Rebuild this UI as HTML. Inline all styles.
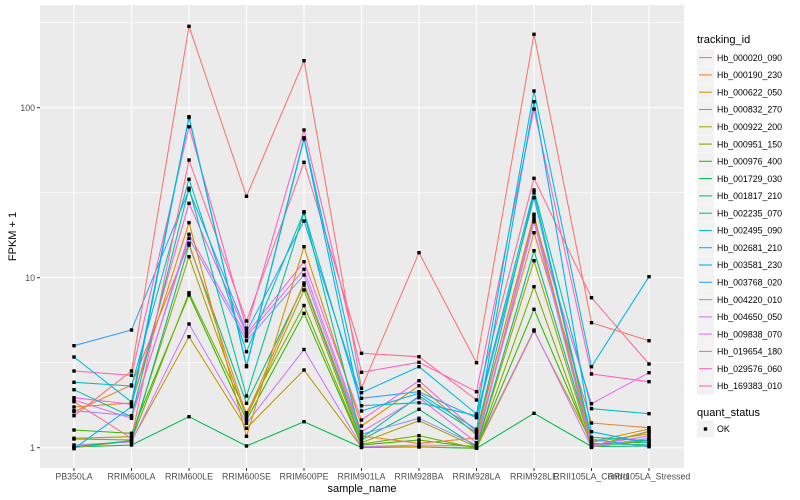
<!DOCTYPE html>
<html><head><meta charset="utf-8"><style>
html,body{margin:0;padding:0;background:#fff;}
svg{display:block;font-family:"Liberation Sans",Arial,sans-serif;}
</style></head><body>
<svg width="800" height="500" viewBox="0 0 800 500" xmlns="http://www.w3.org/2000/svg">
<rect x="0" y="0" width="800" height="500" fill="#fff"/>
<rect x="40" y="5" width="644" height="463" fill="#EBEBEB"/>
<g stroke="#fff" stroke-width="0.55" fill="none">
<line x1="40" x2="684" y1="22.7" y2="22.7"/>
<line x1="40" x2="684" y1="192.7" y2="192.7"/>
<line x1="40" x2="684" y1="362.7" y2="362.7"/>
</g>
<g stroke="#fff" stroke-width="1.1" fill="none">
<line x1="40" x2="684" y1="107.7" y2="107.7"/>
<line x1="40" x2="684" y1="277.7" y2="277.7"/>
<line x1="40" x2="684" y1="447.7" y2="447.7"/>
<line x1="74" x2="74" y1="5" y2="468"/>
<line x1="131.5" x2="131.5" y1="5" y2="468"/>
<line x1="189" x2="189" y1="5" y2="468"/>
<line x1="246.5" x2="246.5" y1="5" y2="468"/>
<line x1="304" x2="304" y1="5" y2="468"/>
<line x1="361.5" x2="361.5" y1="5" y2="468"/>
<line x1="419" x2="419" y1="5" y2="468"/>
<line x1="476.5" x2="476.5" y1="5" y2="468"/>
<line x1="534" x2="534" y1="5" y2="468"/>
<line x1="591.5" x2="591.5" y1="5" y2="468"/>
<line x1="649" x2="649" y1="5" y2="468"/>
</g>
<g fill="none" stroke-width="1.07" stroke-linejoin="round">
<polyline stroke="#00BB4E" points="74,447 131.5,445 189,416.7 246.5,446 304,421.7 361.5,447.5 419,447 476.5,448.3 534,413.3 591.5,446.5 649,446"/>
<polyline stroke="#C09B00" points="74,447.7 131.5,441 189,336.7 246.5,428.3 304,370 361.5,447 419,446.7 476.5,448 534,331 591.5,442 649,434"/>
<polyline stroke="#C77CFF" points="74,445 131.5,442 189,324 246.5,423.3 304,349.5 361.5,446.7 419,445 476.5,446 534,330 591.5,447.5 649,431"/>
<polyline stroke="#39B600" points="74,430 131.5,433.3 189,295 246.5,420 304,313.3 361.5,445 419,440 476.5,447.5 534,309.3 591.5,444 649,442"/>
<polyline stroke="#7CAE00" points="74,439 131.5,440 189,292.7 246.5,412.7 304,305.5 361.5,444 419,435.7 476.5,448.3 534,286.7 591.5,447 649,440"/>
<polyline stroke="#A3A500" points="74,438.3 131.5,436.7 189,256.7 246.5,417.7 304,290 361.5,442.7 419,420.7 476.5,447 534,260.7 591.5,446 649,431.7"/>
<polyline stroke="#00BF7D" points="74,446.7 131.5,440.7 189,245 246.5,403.3 304,285 361.5,440 419,409.3 476.5,446.7 534,250.7 591.5,443.3 649,445"/>
<polyline stroke="#EA8331" points="74,411.7 131.5,385 189,243.3 246.5,415 304,283 361.5,436 419,443.3 476.5,438 534,232.7 591.5,423 649,427.7"/>
<polyline stroke="#9590FF" points="74,410.7 131.5,415.7 189,238.3 246.5,340.7 304,275 361.5,434.3 419,418.3 476.5,445 534,221.7 591.5,446.7 649,438.3"/>
<polyline stroke="#E76BF3" points="74,400 131.5,418.3 189,234.3 246.5,336.7 304,269.3 361.5,431.7 419,397.7 476.5,442.7 534,219.3 591.5,403.7 649,372.7"/>
<polyline stroke="#FA62DB" points="74,397.7 131.5,404.3 189,203.3 246.5,334 304,261.7 361.5,420 419,380.7 476.5,431.7 534,216.7 591.5,445 649,436"/>
<polyline stroke="#D89000" points="74,407 131.5,403 189,222.7 246.5,436.3 304,246.7 361.5,426 419,385.7 476.5,435 534,214.3 591.5,441.7 649,429"/>
<polyline stroke="#35A2FF" points="74,345.7 131.5,330 189,190 246.5,331.7 304,221 361.5,398.3 419,391.7 476.5,417.7 534,197.7 591.5,439.3 649,446.7"/>
<polyline stroke="#00C1A3" points="74,389.7 131.5,416.7 189,188.3 246.5,396 304,212.7 361.5,438.3 419,396 476.5,432.7 534,192.7 591.5,437.3 649,440.7"/>
<polyline stroke="#00BFC4" points="74,382.3 131.5,386 189,179.3 246.5,351.7 304,211.7 361.5,405.7 419,402.7 476.5,415.7 534,190 591.5,408.7 649,413.7"/>
<polyline stroke="#FF6C91" points="74,401.7 131.5,438.3 189,160 246.5,321 304,162.3 361.5,353.3 419,356.7 476.5,400 534,178.3 591.5,297.7 649,364"/>
<polyline stroke="#FF62BC" points="74,371 131.5,375.3 189,126.7 246.5,328.3 304,130 361.5,372.3 419,362.3 476.5,391.7 534,109 591.5,374 649,381.7"/>
<polyline stroke="#00B0F6" points="74,448.7 131.5,406.7 189,117.5 246.5,366.7 304,139 361.5,411 419,393.3 476.5,429.3 534,101.7 591.5,431.7 649,443.3"/>
<polyline stroke="#00BAE0" points="74,357 131.5,402 189,116.7 246.5,365.7 304,137.7 361.5,392.7 419,366.7 476.5,414 534,91 591.5,366.7 649,276.7"/>
<polyline stroke="#F8766D" points="74,415.7 131.5,371 189,26.3 246.5,196.3 304,60.7 361.5,388.3 419,252.7 476.5,362.7 534,34.3 591.5,322.7 649,340.7"/>
</g>
<g fill="#000">
<!-- points: x-1.7, y-1.7, 3.4x3.4 -->
<g transform="translate(-1.7,-1.7)">
<rect x="74" y="415.7" width="3.4" height="3.4"/><rect x="74" y="357" width="3.4" height="3.4"/><rect x="74" y="448.7" width="3.4" height="3.4"/><rect x="74" y="371" width="3.4" height="3.4"/><rect x="74" y="401.7" width="3.4" height="3.4"/><rect x="74" y="382.3" width="3.4" height="3.4"/><rect x="74" y="389.7" width="3.4" height="3.4"/><rect x="74" y="345.7" width="3.4" height="3.4"/><rect x="74" y="407" width="3.4" height="3.4"/><rect x="74" y="397.7" width="3.4" height="3.4"/><rect x="74" y="400" width="3.4" height="3.4"/><rect x="74" y="410.7" width="3.4" height="3.4"/><rect x="74" y="411.7" width="3.4" height="3.4"/><rect x="74" y="446.7" width="3.4" height="3.4"/><rect x="74" y="438.3" width="3.4" height="3.4"/><rect x="74" y="439" width="3.4" height="3.4"/><rect x="74" y="430" width="3.4" height="3.4"/><rect x="74" y="445" width="3.4" height="3.4"/><rect x="74" y="447.7" width="3.4" height="3.4"/><rect x="74" y="447" width="3.4" height="3.4"/>
<rect x="131.5" y="371" width="3.4" height="3.4"/><rect x="131.5" y="402" width="3.4" height="3.4"/><rect x="131.5" y="406.7" width="3.4" height="3.4"/><rect x="131.5" y="375.3" width="3.4" height="3.4"/><rect x="131.5" y="438.3" width="3.4" height="3.4"/><rect x="131.5" y="386" width="3.4" height="3.4"/><rect x="131.5" y="416.7" width="3.4" height="3.4"/><rect x="131.5" y="330" width="3.4" height="3.4"/><rect x="131.5" y="403" width="3.4" height="3.4"/><rect x="131.5" y="404.3" width="3.4" height="3.4"/><rect x="131.5" y="418.3" width="3.4" height="3.4"/><rect x="131.5" y="415.7" width="3.4" height="3.4"/><rect x="131.5" y="385" width="3.4" height="3.4"/><rect x="131.5" y="440.7" width="3.4" height="3.4"/><rect x="131.5" y="436.7" width="3.4" height="3.4"/><rect x="131.5" y="440" width="3.4" height="3.4"/><rect x="131.5" y="433.3" width="3.4" height="3.4"/><rect x="131.5" y="442" width="3.4" height="3.4"/><rect x="131.5" y="441" width="3.4" height="3.4"/><rect x="131.5" y="445" width="3.4" height="3.4"/>
<rect x="189" y="26.3" width="3.4" height="3.4"/><rect x="189" y="116.7" width="3.4" height="3.4"/><rect x="189" y="117.5" width="3.4" height="3.4"/><rect x="189" y="126.7" width="3.4" height="3.4"/><rect x="189" y="160" width="3.4" height="3.4"/><rect x="189" y="179.3" width="3.4" height="3.4"/><rect x="189" y="188.3" width="3.4" height="3.4"/><rect x="189" y="190" width="3.4" height="3.4"/><rect x="189" y="222.7" width="3.4" height="3.4"/><rect x="189" y="203.3" width="3.4" height="3.4"/><rect x="189" y="234.3" width="3.4" height="3.4"/><rect x="189" y="238.3" width="3.4" height="3.4"/><rect x="189" y="243.3" width="3.4" height="3.4"/><rect x="189" y="245" width="3.4" height="3.4"/><rect x="189" y="256.7" width="3.4" height="3.4"/><rect x="189" y="292.7" width="3.4" height="3.4"/><rect x="189" y="295" width="3.4" height="3.4"/><rect x="189" y="324" width="3.4" height="3.4"/><rect x="189" y="336.7" width="3.4" height="3.4"/><rect x="189" y="416.7" width="3.4" height="3.4"/>
<rect x="246.5" y="196.3" width="3.4" height="3.4"/><rect x="246.5" y="365.7" width="3.4" height="3.4"/><rect x="246.5" y="366.7" width="3.4" height="3.4"/><rect x="246.5" y="328.3" width="3.4" height="3.4"/><rect x="246.5" y="321" width="3.4" height="3.4"/><rect x="246.5" y="351.7" width="3.4" height="3.4"/><rect x="246.5" y="396" width="3.4" height="3.4"/><rect x="246.5" y="331.7" width="3.4" height="3.4"/><rect x="246.5" y="436.3" width="3.4" height="3.4"/><rect x="246.5" y="334" width="3.4" height="3.4"/><rect x="246.5" y="336.7" width="3.4" height="3.4"/><rect x="246.5" y="340.7" width="3.4" height="3.4"/><rect x="246.5" y="415" width="3.4" height="3.4"/><rect x="246.5" y="403.3" width="3.4" height="3.4"/><rect x="246.5" y="417.7" width="3.4" height="3.4"/><rect x="246.5" y="412.7" width="3.4" height="3.4"/><rect x="246.5" y="420" width="3.4" height="3.4"/><rect x="246.5" y="423.3" width="3.4" height="3.4"/><rect x="246.5" y="428.3" width="3.4" height="3.4"/><rect x="246.5" y="446" width="3.4" height="3.4"/>
<rect x="304" y="60.7" width="3.4" height="3.4"/><rect x="304" y="137.7" width="3.4" height="3.4"/><rect x="304" y="139" width="3.4" height="3.4"/><rect x="304" y="130" width="3.4" height="3.4"/><rect x="304" y="162.3" width="3.4" height="3.4"/><rect x="304" y="211.7" width="3.4" height="3.4"/><rect x="304" y="212.7" width="3.4" height="3.4"/><rect x="304" y="221" width="3.4" height="3.4"/><rect x="304" y="246.7" width="3.4" height="3.4"/><rect x="304" y="261.7" width="3.4" height="3.4"/><rect x="304" y="269.3" width="3.4" height="3.4"/><rect x="304" y="275" width="3.4" height="3.4"/><rect x="304" y="283" width="3.4" height="3.4"/><rect x="304" y="285" width="3.4" height="3.4"/><rect x="304" y="290" width="3.4" height="3.4"/><rect x="304" y="305.5" width="3.4" height="3.4"/><rect x="304" y="313.3" width="3.4" height="3.4"/><rect x="304" y="349.5" width="3.4" height="3.4"/><rect x="304" y="370" width="3.4" height="3.4"/><rect x="304" y="421.7" width="3.4" height="3.4"/>
<rect x="361.5" y="388.3" width="3.4" height="3.4"/><rect x="361.5" y="392.7" width="3.4" height="3.4"/><rect x="361.5" y="411" width="3.4" height="3.4"/><rect x="361.5" y="372.3" width="3.4" height="3.4"/><rect x="361.5" y="353.3" width="3.4" height="3.4"/><rect x="361.5" y="405.7" width="3.4" height="3.4"/><rect x="361.5" y="438.3" width="3.4" height="3.4"/><rect x="361.5" y="398.3" width="3.4" height="3.4"/><rect x="361.5" y="426" width="3.4" height="3.4"/><rect x="361.5" y="420" width="3.4" height="3.4"/><rect x="361.5" y="431.7" width="3.4" height="3.4"/><rect x="361.5" y="434.3" width="3.4" height="3.4"/><rect x="361.5" y="436" width="3.4" height="3.4"/><rect x="361.5" y="440" width="3.4" height="3.4"/><rect x="361.5" y="442.7" width="3.4" height="3.4"/><rect x="361.5" y="444" width="3.4" height="3.4"/><rect x="361.5" y="445" width="3.4" height="3.4"/><rect x="361.5" y="446.7" width="3.4" height="3.4"/><rect x="361.5" y="447" width="3.4" height="3.4"/><rect x="361.5" y="447.5" width="3.4" height="3.4"/>
<rect x="419" y="252.7" width="3.4" height="3.4"/><rect x="419" y="366.7" width="3.4" height="3.4"/><rect x="419" y="393.3" width="3.4" height="3.4"/><rect x="419" y="362.3" width="3.4" height="3.4"/><rect x="419" y="356.7" width="3.4" height="3.4"/><rect x="419" y="402.7" width="3.4" height="3.4"/><rect x="419" y="396" width="3.4" height="3.4"/><rect x="419" y="391.7" width="3.4" height="3.4"/><rect x="419" y="385.7" width="3.4" height="3.4"/><rect x="419" y="380.7" width="3.4" height="3.4"/><rect x="419" y="397.7" width="3.4" height="3.4"/><rect x="419" y="418.3" width="3.4" height="3.4"/><rect x="419" y="443.3" width="3.4" height="3.4"/><rect x="419" y="409.3" width="3.4" height="3.4"/><rect x="419" y="420.7" width="3.4" height="3.4"/><rect x="419" y="435.7" width="3.4" height="3.4"/><rect x="419" y="440" width="3.4" height="3.4"/><rect x="419" y="445" width="3.4" height="3.4"/><rect x="419" y="446.7" width="3.4" height="3.4"/><rect x="419" y="447" width="3.4" height="3.4"/>
<rect x="476.5" y="362.7" width="3.4" height="3.4"/><rect x="476.5" y="414" width="3.4" height="3.4"/><rect x="476.5" y="429.3" width="3.4" height="3.4"/><rect x="476.5" y="391.7" width="3.4" height="3.4"/><rect x="476.5" y="400" width="3.4" height="3.4"/><rect x="476.5" y="415.7" width="3.4" height="3.4"/><rect x="476.5" y="432.7" width="3.4" height="3.4"/><rect x="476.5" y="417.7" width="3.4" height="3.4"/><rect x="476.5" y="435" width="3.4" height="3.4"/><rect x="476.5" y="431.7" width="3.4" height="3.4"/><rect x="476.5" y="442.7" width="3.4" height="3.4"/><rect x="476.5" y="445" width="3.4" height="3.4"/><rect x="476.5" y="438" width="3.4" height="3.4"/><rect x="476.5" y="446.7" width="3.4" height="3.4"/><rect x="476.5" y="447" width="3.4" height="3.4"/><rect x="476.5" y="448.3" width="3.4" height="3.4"/><rect x="476.5" y="447.5" width="3.4" height="3.4"/><rect x="476.5" y="446" width="3.4" height="3.4"/><rect x="476.5" y="448" width="3.4" height="3.4"/>
<rect x="534" y="34.3" width="3.4" height="3.4"/><rect x="534" y="91" width="3.4" height="3.4"/><rect x="534" y="101.7" width="3.4" height="3.4"/><rect x="534" y="109" width="3.4" height="3.4"/><rect x="534" y="178.3" width="3.4" height="3.4"/><rect x="534" y="190" width="3.4" height="3.4"/><rect x="534" y="192.7" width="3.4" height="3.4"/><rect x="534" y="197.7" width="3.4" height="3.4"/><rect x="534" y="214.3" width="3.4" height="3.4"/><rect x="534" y="216.7" width="3.4" height="3.4"/><rect x="534" y="219.3" width="3.4" height="3.4"/><rect x="534" y="221.7" width="3.4" height="3.4"/><rect x="534" y="232.7" width="3.4" height="3.4"/><rect x="534" y="250.7" width="3.4" height="3.4"/><rect x="534" y="260.7" width="3.4" height="3.4"/><rect x="534" y="286.7" width="3.4" height="3.4"/><rect x="534" y="309.3" width="3.4" height="3.4"/><rect x="534" y="330" width="3.4" height="3.4"/><rect x="534" y="331" width="3.4" height="3.4"/><rect x="534" y="413.3" width="3.4" height="3.4"/>
<rect x="591.5" y="322.7" width="3.4" height="3.4"/><rect x="591.5" y="366.7" width="3.4" height="3.4"/><rect x="591.5" y="431.7" width="3.4" height="3.4"/><rect x="591.5" y="374" width="3.4" height="3.4"/><rect x="591.5" y="297.7" width="3.4" height="3.4"/><rect x="591.5" y="408.7" width="3.4" height="3.4"/><rect x="591.5" y="437.3" width="3.4" height="3.4"/><rect x="591.5" y="439.3" width="3.4" height="3.4"/><rect x="591.5" y="441.7" width="3.4" height="3.4"/><rect x="591.5" y="445" width="3.4" height="3.4"/><rect x="591.5" y="403.7" width="3.4" height="3.4"/><rect x="591.5" y="446.7" width="3.4" height="3.4"/><rect x="591.5" y="423" width="3.4" height="3.4"/><rect x="591.5" y="443.3" width="3.4" height="3.4"/><rect x="591.5" y="446" width="3.4" height="3.4"/><rect x="591.5" y="447" width="3.4" height="3.4"/><rect x="591.5" y="444" width="3.4" height="3.4"/><rect x="591.5" y="447.5" width="3.4" height="3.4"/><rect x="591.5" y="442" width="3.4" height="3.4"/><rect x="591.5" y="446.5" width="3.4" height="3.4"/>
<rect x="649" y="340.7" width="3.4" height="3.4"/><rect x="649" y="276.7" width="3.4" height="3.4"/><rect x="649" y="443.3" width="3.4" height="3.4"/><rect x="649" y="381.7" width="3.4" height="3.4"/><rect x="649" y="364" width="3.4" height="3.4"/><rect x="649" y="413.7" width="3.4" height="3.4"/><rect x="649" y="440.7" width="3.4" height="3.4"/><rect x="649" y="446.7" width="3.4" height="3.4"/><rect x="649" y="429" width="3.4" height="3.4"/><rect x="649" y="436" width="3.4" height="3.4"/><rect x="649" y="372.7" width="3.4" height="3.4"/><rect x="649" y="438.3" width="3.4" height="3.4"/><rect x="649" y="427.7" width="3.4" height="3.4"/><rect x="649" y="445" width="3.4" height="3.4"/><rect x="649" y="431.7" width="3.4" height="3.4"/><rect x="649" y="440" width="3.4" height="3.4"/><rect x="649" y="442" width="3.4" height="3.4"/><rect x="649" y="431" width="3.4" height="3.4"/><rect x="649" y="434" width="3.4" height="3.4"/><rect x="649" y="446" width="3.4" height="3.4"/>
</g>
</g>
<!-- axes ticks -->
<g stroke="#333" stroke-width="1">
<line x1="37" x2="40" y1="107.7" y2="107.7"/>
<line x1="37" x2="40" y1="277.7" y2="277.7"/>
<line x1="37" x2="40" y1="447.7" y2="447.7"/>
<line x1="74" x2="74" y1="468" y2="471"/>
<line x1="131.5" x2="131.5" y1="468" y2="471"/>
<line x1="189" x2="189" y1="468" y2="471"/>
<line x1="246.5" x2="246.5" y1="468" y2="471"/>
<line x1="304" x2="304" y1="468" y2="471"/>
<line x1="361.5" x2="361.5" y1="468" y2="471"/>
<line x1="419" x2="419" y1="468" y2="471"/>
<line x1="476.5" x2="476.5" y1="468" y2="471"/>
<line x1="534" x2="534" y1="468" y2="471"/>
<line x1="591.5" x2="591.5" y1="468" y2="471"/>
<line x1="649" x2="649" y1="468" y2="471"/>
</g>
<g fill="#4D4D4D" font-size="8.8" text-anchor="end">
<text x="35" y="110.9">100</text>
<text x="35" y="280.9">10</text>
<text x="35" y="450.9">1</text>
</g>
<g fill="#4D4D4D" font-size="8.8" text-anchor="middle">
<text x="74" y="479.5">PB350LA</text>
<text x="131.5" y="479.5">RRIM600LA</text>
<text x="189" y="479.5">RRIM600LE</text>
<text x="246.5" y="479.5">RRIM600SE</text>
<text x="304" y="479.5">RRIM600PE</text>
<text x="361.5" y="479.5">RRIM901LA</text>
<text x="419" y="479.5">RRIM928BA</text>
<text x="476.5" y="479.5">RRIM928LA</text>
<text x="534" y="479.5">RRIM928LE</text>
<text x="591.5" y="479.5">RRII105LA_Control</text>
<text x="649" y="479.5">RRII105LA_Stressed</text>
</g>
<text x="362" y="492" font-size="11" text-anchor="middle" fill="#000">sample_name</text>
<text transform="translate(16,236.5) rotate(-90)" font-size="11" text-anchor="middle" fill="#000">FPKM + 1</text>
<!-- legend -->
<text x="697" y="43" font-size="11" fill="#000">tracking_id</text>
<g fill="#F2F2F2">
<rect x="697" y="49.1" width="17" height="17"/><rect x="697" y="66.4" width="17" height="17"/><rect x="697" y="83.7" width="17" height="17"/><rect x="697" y="101" width="17" height="17"/><rect x="697" y="118.3" width="17" height="17"/><rect x="697" y="135.6" width="17" height="17"/><rect x="697" y="152.8" width="17" height="17"/><rect x="697" y="170.1" width="17" height="17"/><rect x="697" y="187.4" width="17" height="17"/><rect x="697" y="204.7" width="17" height="17"/><rect x="697" y="222" width="17" height="17"/><rect x="697" y="239.2" width="17" height="17"/><rect x="697" y="256.5" width="17" height="17"/><rect x="697" y="273.8" width="17" height="17"/><rect x="697" y="291.1" width="17" height="17"/><rect x="697" y="308.4" width="17" height="17"/><rect x="697" y="325.6" width="17" height="17"/><rect x="697" y="342.9" width="17" height="17"/><rect x="697" y="360.2" width="17" height="17"/><rect x="697" y="377.5" width="17" height="17"/>
<rect x="697" y="420.5" width="17" height="17"/>
</g>
<g stroke-width="1.07">
<line x1="699" x2="712" y1="57.6" y2="57.6" stroke="#F8766D"/>
<line x1="699" x2="712" y1="74.9" y2="74.9" stroke="#EA8331"/>
<line x1="699" x2="712" y1="92.2" y2="92.2" stroke="#D89000"/>
<line x1="699" x2="712" y1="109.5" y2="109.5" stroke="#C09B00"/>
<line x1="699" x2="712" y1="126.8" y2="126.8" stroke="#A3A500"/>
<line x1="699" x2="712" y1="144.1" y2="144.1" stroke="#7CAE00"/>
<line x1="699" x2="712" y1="161.3" y2="161.3" stroke="#39B600"/>
<line x1="699" x2="712" y1="178.6" y2="178.6" stroke="#00BB4E"/>
<line x1="699" x2="712" y1="195.9" y2="195.9" stroke="#00BF7D"/>
<line x1="699" x2="712" y1="213.2" y2="213.2" stroke="#00C1A3"/>
<line x1="699" x2="712" y1="230.5" y2="230.5" stroke="#00BFC4"/>
<line x1="699" x2="712" y1="247.7" y2="247.7" stroke="#00BAE0"/>
<line x1="699" x2="712" y1="265" y2="265" stroke="#00B0F6"/>
<line x1="699" x2="712" y1="282.3" y2="282.3" stroke="#35A2FF"/>
<line x1="699" x2="712" y1="299.6" y2="299.6" stroke="#9590FF"/>
<line x1="699" x2="712" y1="316.9" y2="316.9" stroke="#C77CFF"/>
<line x1="699" x2="712" y1="334.1" y2="334.1" stroke="#E76BF3"/>
<line x1="699" x2="712" y1="351.4" y2="351.4" stroke="#FA62DB"/>
<line x1="699" x2="712" y1="368.7" y2="368.7" stroke="#FF62BC"/>
<line x1="699" x2="712" y1="386" y2="386" stroke="#FF6C91"/>
</g>
<g font-size="8.8" fill="#000">
<text x="717" y="60.8">Hb_000020_090</text>
<text x="717" y="78.1">Hb_000190_230</text>
<text x="717" y="95.4">Hb_000622_050</text>
<text x="717" y="112.7">Hb_000832_270</text>
<text x="717" y="130">Hb_000922_200</text>
<text x="717" y="147.3">Hb_000951_150</text>
<text x="717" y="164.5">Hb_000976_400</text>
<text x="717" y="181.8">Hb_001729_030</text>
<text x="717" y="199.1">Hb_001817_210</text>
<text x="717" y="216.4">Hb_002235_070</text>
<text x="717" y="233.7">Hb_002495_090</text>
<text x="717" y="250.9">Hb_002681_210</text>
<text x="717" y="268.2">Hb_003581_230</text>
<text x="717" y="285.5">Hb_003768_020</text>
<text x="717" y="302.8">Hb_004220_010</text>
<text x="717" y="320.1">Hb_004650_050</text>
<text x="717" y="337.3">Hb_009838_070</text>
<text x="717" y="354.6">Hb_019654_180</text>
<text x="717" y="371.9">Hb_029576_060</text>
<text x="717" y="389.2">Hb_169383_010</text>
</g>
<text x="697" y="416" font-size="11" fill="#000">quant_status</text>
<rect x="703.8" y="427.3" width="3.4" height="3.4" fill="#000"/>
<text x="717" y="432.2" font-size="8.8" fill="#000">OK</text>
</svg>
</body></html>
